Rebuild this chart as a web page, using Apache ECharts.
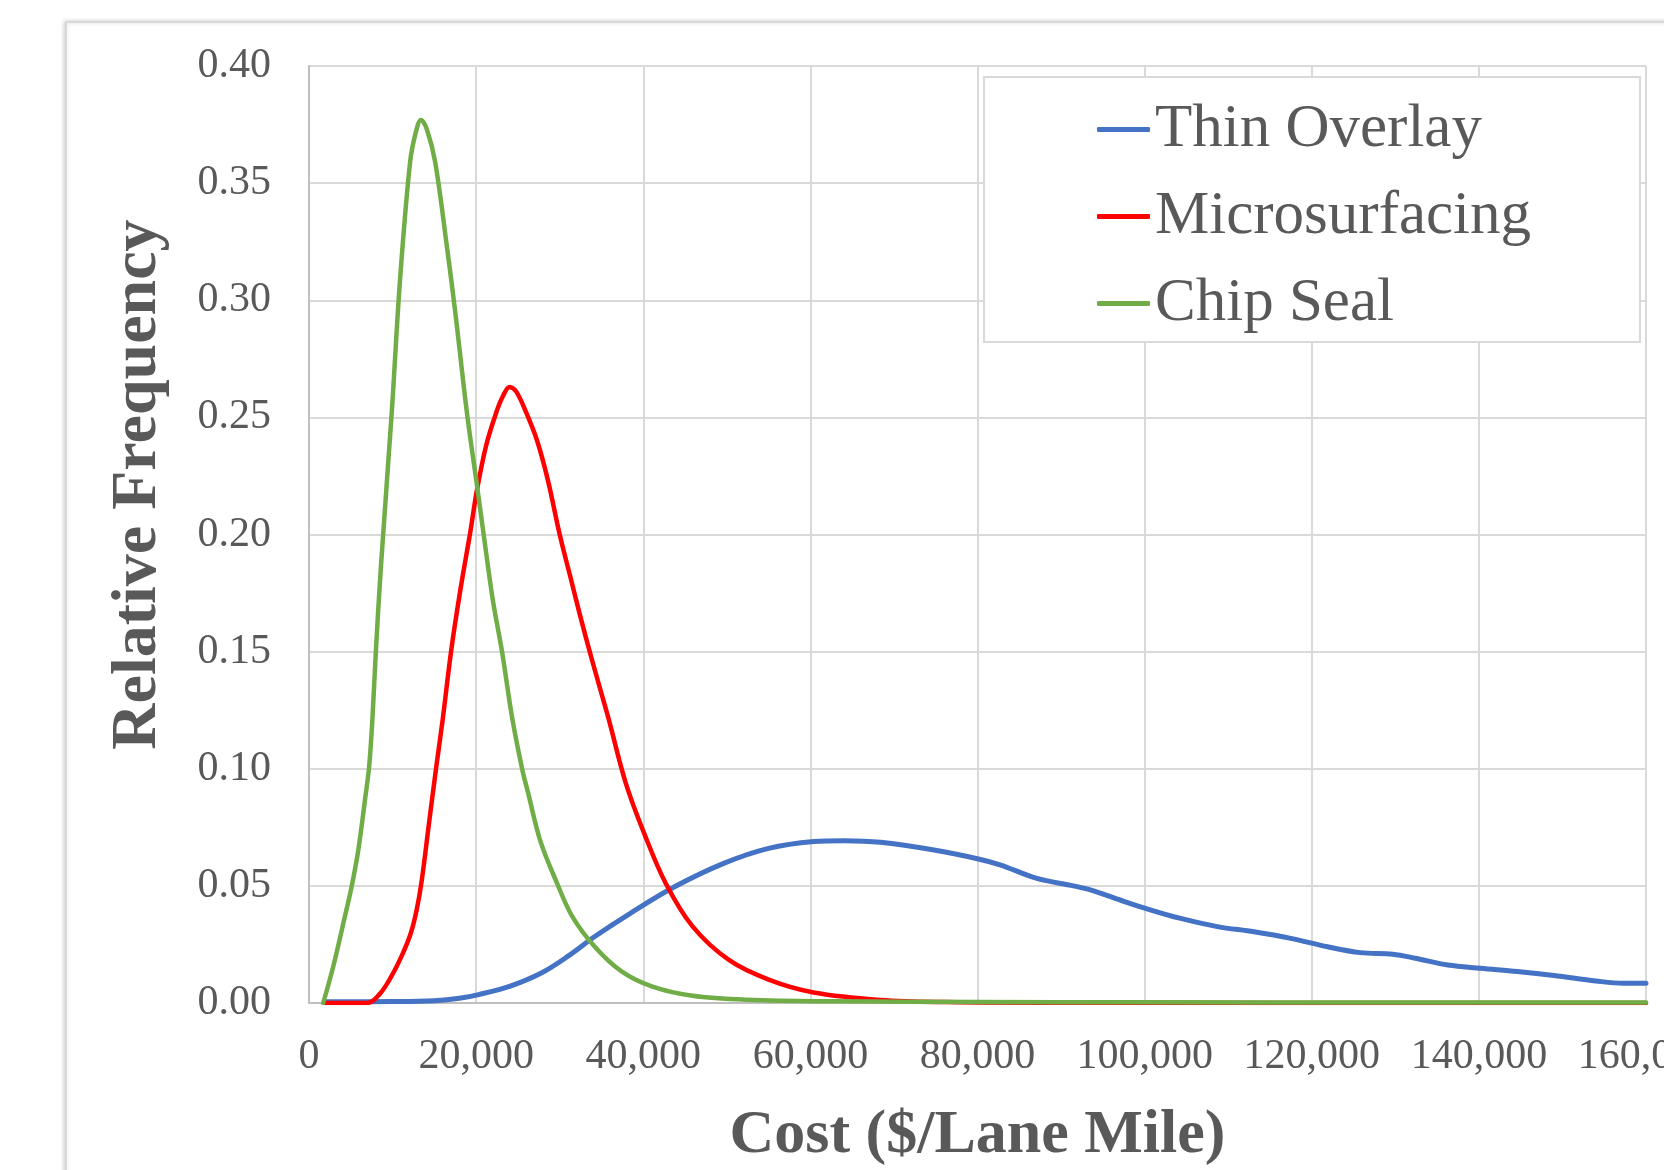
<!DOCTYPE html>
<html>
<head>
<meta charset="utf-8">
<script src="https://cdn.jsdelivr.net/npm/echarts@6/dist/echarts.min.js"></script>
<style>
  html, body { margin: 0; padding: 0; background: #fff; }
  #main { width: 1664px; height: 1170px; }
</style>
</head>
<body>
<div id="main"></div>
<script>
// x ticks and y ticks
const xTicks = [0, 20000, 40000, 60000, 80000, 100000, 120000, 140000, 160000];
const yTicks = [0, 0.05, 0.10, 0.15, 0.20, 0.25, 0.30, 0.35, 0.40];
const seriesNames = ['Thin Overlay', 'Microsurfacing', 'Chip Seal'];

// Thin Overlay
const thinCost = [2000, 10000, 15000, 18000, 20300, 24000, 27800, 31000, 34200, 38500, 43800, 49700, 55000, 60400, 64100, 68400, 74800, 80100, 82700, 87100, 91500, 93800, 97600, 100100, 104200, 108700, 113100, 117500, 121900, 125800, 129700, 132400, 136300, 140200, 144600, 149000, 154000, 157300, 160000];
const thinFreq = [0.0005, 0.0006, 0.001, 0.002, 0.0036, 0.0071, 0.0128, 0.020, 0.0284, 0.0384, 0.0497, 0.0597, 0.066, 0.0689, 0.0693, 0.0686, 0.0653, 0.0615, 0.059, 0.0532, 0.050, 0.048, 0.0433, 0.0404, 0.0362, 0.0326, 0.0304, 0.0276, 0.024, 0.0215, 0.0208, 0.0191, 0.0162, 0.0148, 0.0134, 0.0117, 0.0094, 0.0084, 0.0084];

// Microsurfacing
const microCost = [2000, 7000, 8500, 9800, 11200, 12200, 12900, 13500, 14300, 15200, 16000, 17000, 18100, 19300, 20100, 21200, 22400, 23200, 24000, 24800, 26000, 27300, 28600, 30000, 31200, 32400, 33900, 35800, 37900, 40100, 42700, 45900, 50200, 55000, 60400, 68400, 76400, 90000, 160000];
const microFreq = [0, 0, 0.004, 0.011, 0.021, 0.030, 0.040, 0.0525, 0.075, 0.100, 0.121, 0.150, 0.176, 0.201, 0.219, 0.238, 0.252, 0.259, 0.263, 0.261, 0.252, 0.240, 0.223, 0.200, 0.183, 0.166, 0.146, 0.122, 0.094, 0.0725, 0.051, 0.0327, 0.0185, 0.010, 0.0045, 0.0013, 0.0004, 0.0001, 0];

// Chip Seal
const chipCost = [1700, 2900, 4300, 5100, 5900, 6700, 7200, 7600, 8000, 8600, 9900, 10900, 12100, 12800, 13400, 14100, 15100, 16500, 17500, 18900, 20100, 20900, 22000, 23100, 24300, 25500, 26200, 27700, 29700, 31500, 34200, 37400, 41100, 45900, 52400, 63000, 80000, 100000, 130000, 160000];
const chipFreq = [0, 0.0156, 0.037, 0.0497, 0.0653, 0.0867, 0.101, 0.122, 0.150, 0.186, 0.252, 0.309, 0.359, 0.372, 0.377, 0.373, 0.359, 0.323, 0.295, 0.252, 0.221, 0.200, 0.172, 0.150, 0.122, 0.100, 0.090, 0.069, 0.051, 0.037, 0.024, 0.0135, 0.007, 0.0031, 0.0014, 0.0007, 0.0004, 0.0003, 0.0002, 0.0002];

const font = '"Liberation Serif", "Times New Roman", serif';
const txt = '#595959';

const pairs = (xs, ys) => xs.map((x, i) => [x, ys[i]]);

const lineSeries = (name, xs, ys, color, width) => ({
  name: name,
  type: 'line',
  data: pairs(xs, ys),
  showSymbol: false,
  smooth: 0.35,
  lineStyle: { color: color, width: width, cap: 'round', join: 'round' },
  itemStyle: { color: color },
  emphasis: { disabled: true }
});

const chart = echarts.init(document.getElementById('main'));
chart.setOption({
  animation: false,
  backgroundColor: '#fff',
  graphic: [
    {
      // outer chart frame
      type: 'rect',
      z: -10,
      shape: { x: 66, y: 22, width: 1700, height: 1250 },
      style: {
        fill: '#fff', stroke: '#d9d9d9', lineWidth: 2,
        shadowBlur: 4, shadowColor: 'rgba(0,0,0,0.18)', shadowOffsetX: -1
      }
    },
    {
      // legend box
      type: 'rect',
      z: 3,
      shape: { x: 984, y: 77, width: 656, height: 265 },
      style: { fill: '#fff', stroke: '#d9d9d9', lineWidth: 2 }
    }
  ],
  legend: {
    data: seriesNames,
    orient: 'vertical',
    left: 1092,
    top: 94,
    itemGap: 26,
    itemWidth: 53,
    itemHeight: 5,
    icon: 'roundRect',
    textStyle: { fontFamily: font, fontSize: 61, lineHeight: 61, color: txt }
  },
  grid: {
    left: 309,
    right: 18,
    top: 66,
    bottom: 167,
    containLabel: false,
    outerBoundsMode: 'none'
  },
  xAxis: {
    type: 'value',
    min: xTicks[0],
    max: xTicks[xTicks.length - 1],
    interval: xTicks[1] - xTicks[0],
    name: 'Cost ($/Lane Mile)',
    nameLocation: 'middle',
    nameGap: 102,
    nameTextStyle: { fontFamily: font, fontSize: 62, fontWeight: 'bold', color: txt },
    axisLine: { show: true, lineStyle: { color: '#bfbfbf', width: 2 } },
    axisTick: { show: false },
    axisLabel: {
      fontFamily: font, fontSize: 42, color: txt, margin: 33,
      showMaxLabel: true, showMinLabel: true,
      formatter: v => v.toLocaleString('en-US')
    },
    splitLine: { show: true, lineStyle: { color: '#d9d9d9', width: 2 } }
  },
  yAxis: {
    type: 'value',
    min: yTicks[0],
    max: yTicks[yTicks.length - 1],
    interval: 0.05,
    name: 'Relative Frequency',
    nameLocation: 'middle',
    nameGap: 139,
    nameTextStyle: {
      fontFamily: font, fontSize: 64, fontWeight: 'bold', color: txt,
      padding: [0, 0, 0, 100]
    },
    axisLine: { show: true, lineStyle: { color: '#bfbfbf', width: 2 } },
    axisTick: { show: false },
    axisLabel: {
      fontFamily: font, fontSize: 42, color: txt, margin: 38,
      formatter: v => v.toFixed(2)
    },
    splitLine: { show: true, lineStyle: { color: '#d9d9d9', width: 2 } }
  },
  series: [
    lineSeries(seriesNames[0], thinCost, thinFreq, '#4472C4', 5),
    lineSeries(seriesNames[1], microCost, microFreq, '#FF0000', 4.5),
    lineSeries(seriesNames[2], chipCost, chipFreq, '#70AD47', 4.5)
  ]
});
</script>
</body>
</html>
